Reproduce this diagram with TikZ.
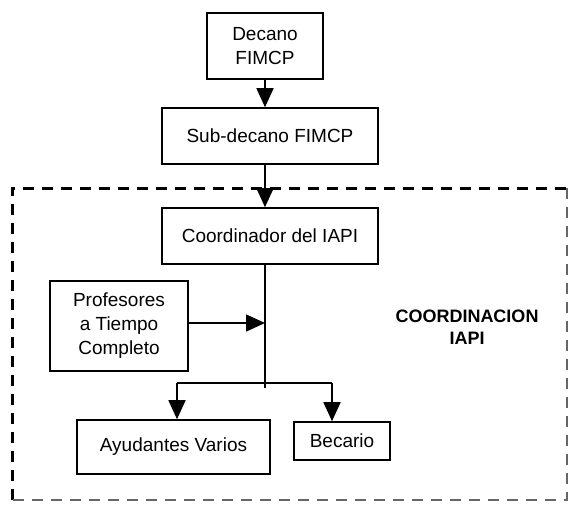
\documentclass[tikz,border=0pt]{standalone}
\usepackage{fontspec}
\setmainfont{Liberation Sans}
\usepackage{tikz}
\usetikzlibrary{arrows.meta}

\begin{document}
\begin{tikzpicture}[x=1pt, y=-1pt,
    box/.style={draw=black, line width=1.6pt, align=center, inner sep=0pt,
                font=\fontsize{19}{24}\selectfont},
    link/.style={line width=1.6pt, -{Triangle[width=17pt,length=19pt]}},
    frame/.style={line width=3pt, dash pattern=on 11pt off 8pt}]
    \useasboundingbox (0,0) rectangle (570,507);

    \draw[frame] (12,500) -- (12,188) -- (567,188);
    \draw[frame, line width=1.4pt, black!60] (567,188) -- (567,500) -- (12,500);

    \node[box, minimum width=116pt, minimum height=66pt] (decano) at (265,46) {Decano\\FIMCP};
    \node[box, minimum width=216pt, minimum height=56pt] (subdecano) at (270,136) {Sub-decano FIMCP};
    \node[box, minimum width=216pt, minimum height=56pt] (coord) at (270,236) {Coordinador del IAPI};
    \node[box, minimum width=138pt, minimum height=90pt] (prof) at (119,326) {Profesores\\a Tiempo\\Completo};
    \node[box, minimum width=193pt, minimum height=54pt] (ayud) at (173.5,447) {Ayudantes Varios};
    \node[box, minimum width=96pt, minimum height=38pt] (becario) at (342,441) {Becario};

    \node[font=\fontsize{18}{22}\selectfont\bfseries, align=center] (area) at (467,327) {COORDINACION\\IAPI};

    \coordinate (tail) at (265,388);
    \coordinate (meet) at (265,323);
    \coordinate (left) at (177,383);
    \coordinate (right) at (332,383);

    \draw[link] (decano.south) -- (decano.south |- subdecano.north);
    \draw[link] (subdecano.south -| decano.south) -- (coord.north -| decano.south);
    \draw[line width=1.6pt] (coord.south -| tail) -- (tail);
    \draw[link] (prof.east |- meet) -- (meet);
    \draw[line width=1.6pt] (left) -- (right);
    \draw[link] (left) -- (left |- ayud.north);
    \draw[link] (right) -- (right |- becario.north);
  \end{tikzpicture}
\end{document}
